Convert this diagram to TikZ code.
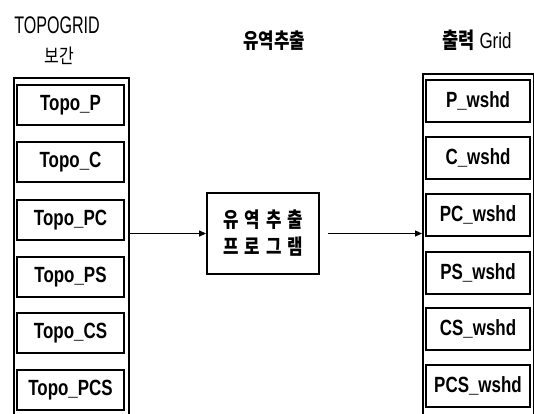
\documentclass[tikz,border=0pt]{standalone}
\usepackage{fontspec}
\setmainfont{Liberation Sans}[FakeStretch=0.77]
\newfontfamily\narrowfont{Liberation Sans}[FakeStretch=0.67]
\newfontfamily\kr{Noto Sans CJK KR}[FakeStretch=0.8]
\usetikzlibrary{arrows.meta}
\newcommand{\gapK}{\hspace{6pt}}
\begin{document}
\begin{tikzpicture}[x=1pt,y=-1pt,
  outerbox/.style={draw,line width=1.5pt,minimum width=#1,minimum height=380pt,anchor=north west,inner sep=0pt},
  lbox/.style={draw,line width=1.2pt,minimum width=107pt,minimum height=40pt,inner sep=0pt,font=\bfseries\fontsize{22}{24}\selectfont},
  rbox/.style={draw,line width=1.2pt,minimum width=104pt,minimum height=42pt,inner sep=0pt,font=\bfseries\fontsize{22}{24}\selectfont},
  progbox/.style={draw,line width=1.8pt,minimum width=112pt,minimum height=81pt,inner sep=0pt,align=center,font=\kr\bfseries\fontsize{21}{27}\selectfont},
  heading/.style={inner sep=0pt,anchor=base},
  conn/.style={line width=1.2pt,-{Triangle[length=7pt,width=6pt]}}
]
\useasboundingbox (0,0) rectangle (534,413);
% outer containers (open at the bottom, cropped by the page)
\node[outerbox=115pt] (L) at (13,77) {};
\node[outerbox=111pt] (R) at (422,73) {};
% left column
\node[lbox] (l1) at (70.5,105) {Topo\_P};
\node[lbox] (l2) at (70.5,162) {Topo\_C};
\node[lbox] (l3) at (70.5,220) {Topo\_PC};
\node[lbox] (l4) at (70.5,277) {Topo\_PS};
\node[lbox] (l5) at (70.5,333) {Topo\_CS};
\node[lbox] (l6) at (70.5,390) {Topo\_PCS};
% right column
\node[rbox] (r1) at (478,101) {P\_wshd};
\node[rbox] (r2) at (478,158) {C\_wshd};
\node[rbox] (r3) at (478,215) {PC\_wshd};
\node[rbox] (r4) at (478,273) {PS\_wshd};
\node[rbox] (r5) at (478,329) {CS\_wshd};
\node[rbox] (r6) at (478,386) {PCS\_wshd};
% program box
\node[progbox] (M) at (263,233.5) {유\gapK 역\gapK 추\gapK 출\\프\gapK 로\gapK 그\gapK 램};
% headings
\node[heading,font=\narrowfont\fontsize{24}{26}\selectfont] (h1a) at (57,33) {TOPOGRID};
\node[heading,font=\kr\fontsize{20}{22}\selectfont] (h1b) at (59,63) {보간};
\node[heading,font=\kr\bfseries\fontsize{21}{24}\selectfont] (h2) at (274,48) {유역추출};
\node[heading,font=\fontsize{22}{24}\selectfont] (h3) at (477,48) {{\kr\bfseries 출력} Grid};
% connectors
\draw[conn] (M.west -| L.east) -- (M.west);
\draw[conn] ([xshift=8pt]M.east) -- (M.east -| R.west);
\end{tikzpicture}
\end{document}
